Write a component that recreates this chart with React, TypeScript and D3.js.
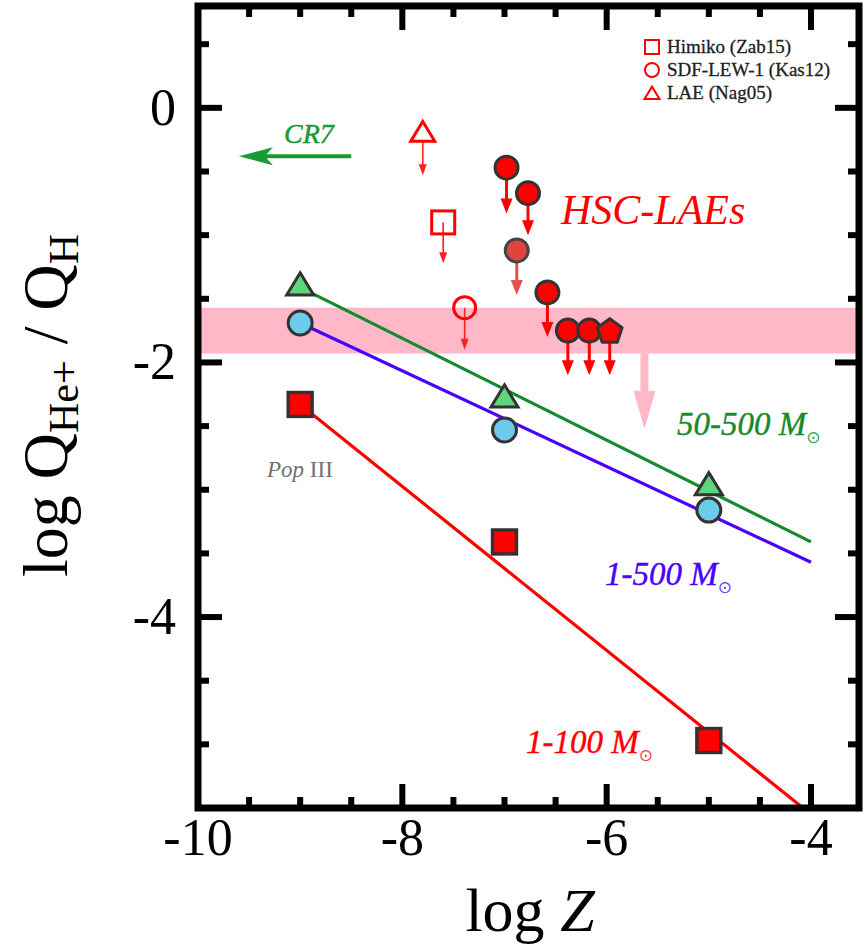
import React, { useEffect } from "react";
import * as d3 from "d3";

// ---- data ----
const popX = [-9, -7, -5];
const tri50500 = [-1.4, -2.28, -2.97];
const circ1500 = [-1.69, -2.53, -3.16];
const sq1100 = [-2.33, -3.41, -4.97];

const lineX = [-9, -4];
const line50500 = [-1.41, -3.41];
const line1500 = [-1.69, -3.57];
const line1100 = [-2.33, -5.55];

// HSC-LAEs upper limits
const hscX = [-6.98, -6.77, -6.88, -6.58, -6.38, -6.17, -5.97];
const hscY = [-0.47, -0.67, -1.12, -1.45, -1.75, -1.75, -1.75];
const hscEnd = [-0.83, -1.0, -1.47, -1.8, -2.1, -2.1, -2.1];
const hscShape = ["c", "c", "f", "c", "c", "c", "p"];

// other LAEs (open symbols)
const otherX = [-7.6, -7.39, -7.8];
const otherY = [-0.9, -1.57, -0.2];
const otherEnd = [-1.22, -1.9, -0.53];
const otherShape = ["s", "c", "t"];
const legendLabels = ["Himiko (Zab15)", "SDF-LEW-1 (Kas12)", "LAE (Nag05)"];

const bandY = [-1.57, -1.93];
const bandArrowX = -5.63;
const bandArrowEnd = -2.52;

const cr7X = [-8.5, -9.6];
const cr7Y = -0.38;

const xTickLabels = [-10, -8, -6, -4];
const yTickLabels = [0, -2, -4];

const W = 866;
const H = 948;

const x = d3.scaleLinear().domain([-10, -4]).range([198, 811]);
const y = d3.scaleLinear().domain([-5.5, 0.8]).range([808, 6]);
const X0 = x(-10);
const X1 = 859;
const Y0 = y(0.8);
const Y1 = y(-5.5);

const serif = "'Liberation Serif', 'Times New Roman', serif";

function downArrow(xp: number, y1: number, y2: number, color: string, sw: number, hw: number, hl: number, key: string, opacity = 1) {
  return (
    <g key={key} opacity={opacity}>
      <line x1={xp} x2={xp} y1={y1} y2={y2 - hl + 1} stroke={color} strokeWidth={sw} />
      <path d={`M${xp - hw},${y2 - hl} L${xp + hw},${y2 - hl} L${xp},${y2} Z`} fill={color} />
    </g>
  );
}

function triPath(cx: number, cy: number, s: number) {
  const h = s * 0.82;
  return `M${cx},${cy - h * 0.6} L${cx + s / 2},${cy + h * 0.4} L${cx - s / 2},${cy + h * 0.4} Z`;
}

function pentPath(cx: number, cy: number, r: number) {
  const pts = d3.range(5).map((i) => {
    const a = -Math.PI / 2 + (i * 2 * Math.PI) / 5;
    return [cx + r * Math.cos(a), cy + r * Math.sin(a)];
  });
  return "M" + pts.map((p) => p.join(",")).join("L") + "Z";
}

export default function App() {
  useEffect(() => {
    document.body.style.margin = "0";
  }, []);

  const xTicks = d3.range(-9.5, -3.5, 0.5);
  const yTicks = d3.range(-5, 0.8, 0.5);
  const isMajX = (v: number) => Math.abs(v % 2) < 1e-6;
  const isMajY = (v: number) => Math.abs(v % 2) < 1e-6;

  const line = d3.line<[number, number]>().x((d) => x(d[0])).y((d) => y(d[1]));

  return (
    <svg width={W} height={H} style={{ display: "block", background: "#fff" }}>
      <defs>
        <clipPath id="plot">
          <rect x={X0} y={Y0} width={X1 - X0} height={Y1 - Y0} />
        </clipPath>
      </defs>

      {/* pink band */}
      <rect x={X0} y={y(bandY[0])} width={X1 - X0} height={y(bandY[1]) - y(bandY[0])} fill="#ffb8c8" />
      {downArrow(x(bandArrowX), y(bandY[1]), y(bandArrowEnd), "#ffb8c8", 8, 11, 38, "band")}

      {/* model lines */}
      <g clipPath="url(#plot)">
        <path d={line(lineX.map((v, i) => [v, line50500[i]]) as any) || ""} stroke="#168a2c" strokeWidth={3.2} fill="none" />
        <path d={line(lineX.map((v, i) => [v, line1500[i]]) as any) || ""} stroke="#4a00ff" strokeWidth={3.2} fill="none" />
        <path d={line(lineX.map((v, i) => [v, line1100[i]]) as any) || ""} stroke="#ff0000" strokeWidth={3.2} fill="none" />
      </g>

      {/* model markers */}
      {popX.map((v, i) => (
        <path key={"t" + i} d={triPath(x(v), y(tri50500[i]), 27)} fill="#5fd67e" stroke="#333" strokeWidth={3} strokeLinejoin="miter" />
      ))}
      {popX.map((v, i) => (
        <circle key={"c" + i} cx={x(v)} cy={y(circ1500[i])} r={12} fill="#6ccbeb" stroke="#333" strokeWidth={3} />
      ))}
      {popX.map((v, i) => (
        <rect key={"s" + i} x={x(v) - 12} y={y(sq1100[i]) - 12} width={24} height={24} fill="#ff0000" stroke="#333" strokeWidth={3.4} />
      ))}

      {/* other LAEs open symbols */}
      {otherX.map((v, i) => {
        const cx = x(v);
        const cy = y(otherY[i]);
        const shape = otherShape[i];
        return (
          <g key={"o" + i}>
            {downArrow(cx, cy + (shape === "t" ? 9 : 0), y(otherEnd[i]), "#ff2020", 1.6, 4, 11, "oa" + i)}
            {shape === "s" && <rect x={cx - 11.5} y={cy - 11.5} width={23} height={23} fill="none" stroke="#ff0000" strokeWidth={3} />}
            {shape === "c" && <circle cx={cx} cy={cy} r={11} fill="none" stroke="#ff0000" strokeWidth={3} />}
            {shape === "t" && <path d={triPath(cx, cy, 24)} fill="none" stroke="#ff0000" strokeWidth={3} />}
          </g>
        );
      })}

      {/* HSC-LAEs */}
      {hscX.map((v, i) => {
        const cx = x(v);
        const cy = y(hscY[i]);
        const faded = hscShape[i] === "f";
        return (
          <g key={"h" + i}>
            {downArrow(cx, cy, y(hscEnd[i]), faded ? "#e85050" : "#ff0000", 3, 6, 15, "ha" + i, 1)}
          </g>
        );
      })}
      {hscX.map((v, i) => {
        const cx = x(v);
        const cy = y(hscY[i]);
        const s = hscShape[i];
        if (s === "p") return <path key={"hp" + i} d={pentPath(cx, cy + 1, 13)} fill="#ff0000" stroke="#333" strokeWidth={3} strokeLinejoin="round" />;
        return <circle key={"hc" + i} cx={cx} cy={cy} r={11.5} fill={s === "f" ? "#e0443c" : "#ff0000"} stroke={s === "f" ? "#444" : "#333"} strokeWidth={3} />;
      })}

      {/* CR7 */}
      <g>
        <line x1={x(cr7X[0])} x2={x(cr7X[1]) + 25} y1={y(cr7Y)} y2={y(cr7Y)} stroke="#1a9a34" strokeWidth={4} />
        <path
          d={`M${x(cr7X[1])},${y(cr7Y)} L${x(cr7X[1]) + 34},${y(cr7Y) - 9} L${x(cr7X[1]) + 26},${y(cr7Y)} L${x(cr7X[1]) + 34},${y(cr7Y) + 9} Z`}
          fill="#1a9a34"
        />
        <text x={284} y={143} fontFamily={serif} fontStyle="italic" fontSize={28} fill="#1a9a34" stroke="#1a9a34" strokeWidth={0.5}>CR7</text>
      </g>

      <text x={561} y={224} fontFamily={serif} fontStyle="italic" fontSize={42} fill="#ff0000">HSC-LAEs</text>

      {/* model labels */}
      <text x={677} y={435} fontFamily={serif} fontStyle="italic" fontSize={33} fill="#168a2c" stroke="#168a2c" strokeWidth={0.4}>
        50-500 M<tspan fontStyle="normal" fontFamily="'DejaVu Sans'" fontSize={17} dy={8} fill="#3aa050" strokeWidth={0}>⊙</tspan>
      </text>
      <text x={605} y={585} fontFamily={serif} fontStyle="italic" fontSize={33} fill="#4a00ff" stroke="#4a00ff" strokeWidth={0.4}>
        1-500 M<tspan fontStyle="normal" fontFamily="'DejaVu Sans'" fontSize={17} dy={8} fill="#6a40ff" strokeWidth={0}>⊙</tspan>
      </text>
      <text x={526} y={753} fontFamily={serif} fontStyle="italic" fontSize={33} fill="#ff0000" stroke="#ff0000" strokeWidth={0.4}>
        1-100 M<tspan fontStyle="normal" fontFamily="'DejaVu Sans'" fontSize={17} dy={8} fill="#ff4040" strokeWidth={0}>⊙</tspan>
      </text>
      <text x={267} y={477} fontFamily={serif} fontSize={23} fill="#707070">
        <tspan fontStyle="italic">Pop</tspan> III
      </text>

      {/* legend */}
      {legendLabels.map((l, i) => {
        const cy = 47 + i * 23;
        const cx = 652;
        return (
          <g key={"l" + i}>
            {i === 0 && <rect x={cx - 7} y={cy - 7} width={14} height={14} fill="none" stroke="#ff0000" strokeWidth={2} />}
            {i === 1 && <circle cx={cx} cy={cy} r={7} fill="none" stroke="#ff0000" strokeWidth={2} />}
            {i === 2 && <path d={triPath(cx, cy + 1, 15)} fill="none" stroke="#ff0000" strokeWidth={2} />}
            <text x={667} y={cy + 6} fontFamily={serif} fontSize={19} fill="#222" stroke="#222" strokeWidth={0.3}>{l}</text>
          </g>
        );
      })}

      {/* frame */}
      <rect x={X0} y={Y0} width={X1 - X0} height={Y1 - Y0} fill="none" stroke="#000" strokeWidth={7} />
      {xTicks.map((v) => {
        const L = isMajX(v) ? 24 : 11;
        return (
          <g key={"xt" + v}>
            <line x1={x(v)} x2={x(v)} y1={Y0} y2={Y0 + L} stroke="#000" strokeWidth={6} />
            <line x1={x(v)} x2={x(v)} y1={Y1} y2={Y1 - L} stroke="#000" strokeWidth={6} />
          </g>
        );
      })}
      {yTicks.map((v) => {
        const L = isMajY(v) ? 24 : 11;
        return (
          <g key={"yt" + v}>
            <line x1={X0} x2={X0 + L} y1={y(v)} y2={y(v)} stroke="#000" strokeWidth={6} />
            <line x1={X1} x2={X1 - L} y1={y(v)} y2={y(v)} stroke="#000" strokeWidth={6} />
          </g>
        );
      })}

      {/* tick labels */}
      {xTickLabels.map((v) => (
        <text key={"xl" + v} x={x(v)} y={855} textAnchor="middle" fontFamily={serif} fontSize={52} fill="#000">{v}</text>
      ))}
      {yTickLabels.map((v) => (
        <text key={"yl" + v} x={176} y={y(v) + 17} textAnchor="end" fontFamily={serif} fontSize={52} fill="#000">{v}</text>
      ))}

      {/* axis titles */}
      <text x={530} y={931} textAnchor="middle" fontFamily={serif} fontSize={62} fill="#000">
        log <tspan fontStyle="italic">Z</tspan>
      </text>
      <text transform="translate(67,577) rotate(-90)" fontFamily={serif} fontSize={64} fill="#000">
        log Q<tspan fontSize={42} dy={11}>He+</tspan>
        <tspan dy={-11}> / Q</tspan>
        <tspan fontSize={42} dy={11}>H</tspan>
      </text>
    </svg>
  );
}
